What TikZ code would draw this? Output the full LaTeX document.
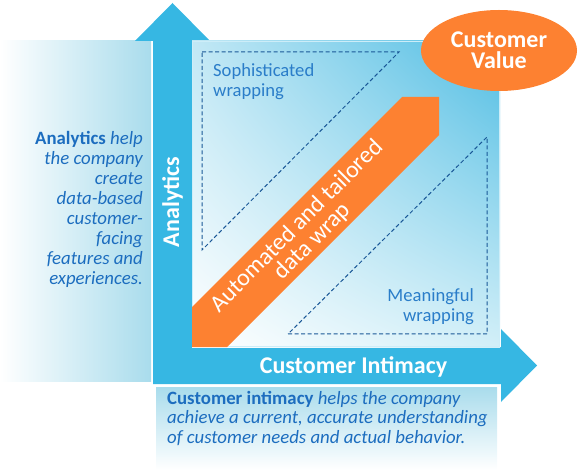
\documentclass[tikz,border=0pt]{standalone}
\usepackage{fontspec}
\setmainfont{Carlito}
\usetikzlibrary{shapes.geometric,shadings}
\definecolor{arrowblue}{HTML}{36B7E3}
\definecolor{orangeband}{HTML}{FD8131}
\definecolor{textblue}{HTML}{1C6DBF}
\definecolor{labelblue}{HTML}{2A7DC9}
\definecolor{dashblue}{HTML}{1A5897}
\definecolor{boxblue}{HTML}{A9DCEC}
\definecolor{sqblue}{HTML}{50BDE3}
\definecolor{sqmidA}{HTML}{C2E8F5}
\definecolor{sqmidB}{HTML}{D2EFF8}
\tikzset{
  dashline/.style={draw=dashblue, line width=1pt, dash pattern=on 4pt off 2.5pt},
  whitetext/.style={text=white, inner sep=0pt},
  bluetext/.style={text=textblue, inner sep=0pt},
  labeltext/.style={text=labelblue, inner sep=0pt}
}
\begin{document}
\begin{tikzpicture}[x=1pt,y=-1pt]
\useasboundingbox (0,0) rectangle (581,470);
% side boxes
\shade[left color=white, right color=boxblue] (0,41) rectangle (151,381);
\shade[top color=boxblue, bottom color=white] (156,387) rectangle (497,470);
% L-shaped axes arrows
\fill[arrowblue] (153,384) -- (153,41) -- (135,41) -- (172.5,3) -- (210,41)
  -- (192,41) -- (192,347) -- (501,347) -- (501,329) -- (537,365.5)
  -- (501,402) -- (501,384) -- cycle;
% square
\shade[upper right=sqblue, lower left=white, upper left=sqmidA, lower right=sqmidB]
  (192,41) rectangle (500,347);
\draw[white!75!arrowblue, line width=1pt] (192.5,41.5) rectangle (499.5,346.5);
% dashed triangles
\draw[dashline] (202,52) -- (399,52) -- (202,250) -- cycle;
\draw[dashline] (288,334) -- (487,334) -- (487,137) -- cycle;
% orange band
\fill[orangeband] (192,307) -- (402,97) -- (439,97) -- (439,135) -- (227,347) -- (192,347) -- cycle;
% ellipse
\node[ellipse, fill=orangeband, minimum width=156, minimum height=81, inner sep=0pt,
  whitetext, align=center, font=\bfseries\fontsize{24}{21}\selectfont] (cv) at (499,50.5)
  {Customer\\Value};
% axis labels
\node[whitetext, rotate=90, font=\bfseries\fontsize{24}{24}\selectfont] (an) at (172.5,202) {Analytics};
\node[whitetext, anchor=base, font=\bfseries\fontsize{24}{24}\selectfont] (ci) at (353.5,373) {Customer Intimacy};
% band text
\node[whitetext, rotate=45, align=center, font=\fontsize{24}{22}\selectfont] (band) at (305,234)
  {Automated and tailored\\data wrap};
% region labels
\node[labeltext, anchor=base west, align=left, font=\fontsize{18.6}{20}\selectfont] (soph) at (213,97)
  {Sophisticated\\wrapping};
\node[labeltext, anchor=base east, align=right, font=\fontsize{18.6}{20}\selectfont] (mean) at (474,322)
  {Meaningful\\wrapping};
% descriptions
\node[bluetext, anchor=base east, align=right, font=\itshape\fontsize{18.8}{20}\selectfont] (adesc) at (143,285)
  {{\bfseries\upshape Analytics} help\\the company\\create\\data-based\\customer-\\facing\\features and\\experiences.};
\node[bluetext, anchor=base west, align=left, font=\itshape\fontsize{18.8}{19.5}\selectfont] (cdesc) at (167,443)
  {{\bfseries\upshape Customer intimacy} helps the company\\achieve a current, accurate understanding\\of customer needs and actual behavior.};
\end{tikzpicture}
\end{document}
